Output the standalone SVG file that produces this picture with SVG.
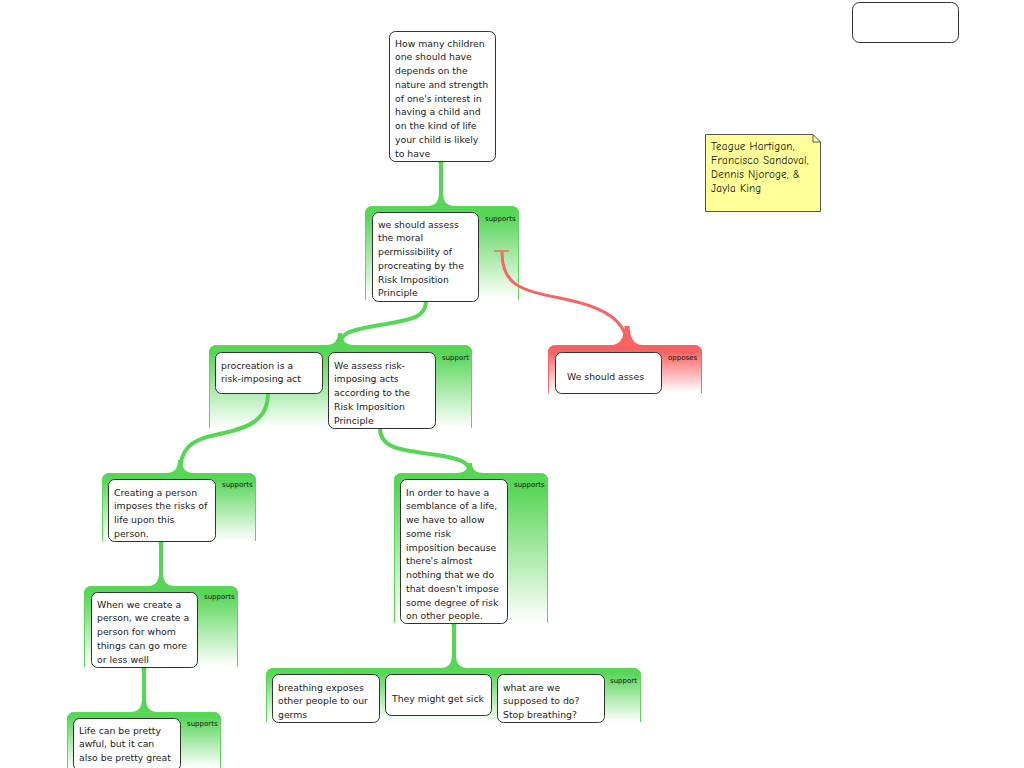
<svg xmlns="http://www.w3.org/2000/svg" width="1024" height="768" viewBox="0 0 1024 768">
<defs>
<linearGradient id="gg" x1="0" y1="0" x2="0" y2="1">
<stop offset="0" stop-color="#55d655"/><stop offset="0.1" stop-color="#58d658"/><stop offset="1" stop-color="#ffffff"/>
</linearGradient>
<linearGradient id="rg" x1="0" y1="0" x2="0" y2="1">
<stop offset="0" stop-color="#f86060"/><stop offset="0.15" stop-color="#f86464"/><stop offset="1" stop-color="#ffffff"/>
</linearGradient>
<style>
.t{font-family:"DejaVu Sans",Verdana,sans-serif;font-size:9.3px;fill:#222}
.lb{font-family:"DejaVu Sans",Verdana,sans-serif;font-size:7px;fill:#111}
.nd{fill:#fff;stroke:#333;stroke-width:1}
.gfill{fill:url(#gg);stroke:none}
.gedge{fill:none;stroke:#5ad65a;stroke-width:1}
.rfill{fill:url(#rg);stroke:none}
.redge{fill:none;stroke:#f86464;stroke-width:1}
.gc{fill:none;stroke:#55d655;stroke-width:4}
.gf{fill:#55d655}
.rc{fill:none;stroke:#f86464;stroke-width:3}
.rf{fill:#f86464}
.note{font-family:"Comic Neue","DejaVu Sans",sans-serif;font-size:11px;letter-spacing:0.25px;fill:#111}
</style>
</defs>
<rect width="1024" height="768" fill="#fff"/>

<g id="group-g1">
<path class="gfill" d="M365,300 V214 Q365,206 373,206 H511 Q519,206 519,214 V300 Z"/>
<path class="gedge" d="M365.5,300 V214 Q365.5,206.5 373,206.5 H511 Q518.5,206.5 518.5,214 V300"/>
<text class="lb" x="485" y="221">supports</text>
</g>
<g id="group-opp">
<path class="rfill" d="M548,393 V353 Q548,345 556,345 H694 Q702,345 702,353 V393 Z"/>
<path class="redge" d="M548.5,393 V353 Q548.5,345.5 556,345.5 H694 Q701.5,345.5 701.5,353 V393"/>
<text class="lb" x="668" y="360">opposes</text>
</g>
<g id="group-g2">
<path class="gfill" d="M209,428 V353 Q209,345 217,345 H464 Q472,345 472,353 V428 Z"/>
<path class="gedge" d="M209.5,428 V353 Q209.5,345.5 217,345.5 H464 Q471.5,345.5 471.5,353 V428"/>
<text class="lb" x="442" y="360">support</text>
</g>
<g id="group-g3">
<path class="gfill" d="M102,541 V481 Q102,473 110,473 H248 Q256,473 256,481 V541 Z"/>
<path class="gedge" d="M102.5,541 V481 Q102.5,473.5 110,473.5 H248 Q255.5,473.5 255.5,481 V541"/>
<text class="lb" x="222" y="487">supports</text>
</g>
<g id="group-g4">
<path class="gfill" d="M394,623 V481 Q394,473 402,473 H540 Q548,473 548,481 V623 Z"/>
<path class="gedge" d="M394.5,623 V481 Q394.5,473.5 402,473.5 H540 Q547.5,473.5 547.5,481 V623"/>
<text class="lb" x="514" y="487">supports</text>
</g>
<g id="group-g5">
<path class="gfill" d="M84,667 V594 Q84,586 92,586 H230 Q238,586 238,594 V667 Z"/>
<path class="gedge" d="M84.5,667 V594 Q84.5,586.5 92,586.5 H230 Q237.5,586.5 237.5,594 V667"/>
<text class="lb" x="204" y="599">supports</text>
</g>
<g id="group-g6">
<path class="gfill" d="M67,768 V720 Q67,712 75,712 H213 Q221,712 221,720 V768 Z"/>
<path class="gedge" d="M67.5,768 V720 Q67.5,712.5 75,712.5 H213 Q220.5,712.5 220.5,720 V768"/>
<text class="lb" x="187" y="726">supports</text>
</g>
<g id="group-g7">
<path class="gfill" d="M266,722 V676 Q266,668 274,668 H633 Q641,668 641,676 V722 Z"/>
<path class="gedge" d="M266.5,722 V676 Q266.5,668.5 274,668.5 H633 Q640.5,668.5 640.5,676 V722"/>
<text class="lb" x="610" y="683">support</text>
</g>

<g id="connectors">
<path class="gc" d="M441,161 V206"/>
<path class="gf" d="M436,161 C439,161 439,164 439,168 L443,168 C443,164 443,161 446,161 Z"/>
<path class="gf" d="M427,206 C436,206 439,201 439,192 L443,192 C443,201 446,206 455,206 Z"/>
<path class="gc" d="M426,301 C426,318 410,320 380,325 C350,330 340,333 340,345"/>
<path class="gf" d="M326,345 C335,345 338,340 338,333 L342,333 C342,340 345,345 354,345 Z"/>
<path class="gc" d="M268,393 C268,420 250,428 215,435 C190,440 180,450 180,473"/>
<path class="gf" d="M166,473 C175,473 178,468 178,460 L182,460 C182,468 185,473 194,473 Z"/>
<path class="gc" d="M380,428 C380,448 400,450 430,454 C460,458 470,462 470,473"/>
<path class="gf" d="M456,473 C465,473 468,469 468,463 L472,463 C472,469 475,473 484,473 Z"/>
<path class="gc" d="M161,541 V586"/>
<path class="gf" d="M156,541 C159,541 159,544 159,548 L163,548 C163,544 163,541 166,541 Z"/>
<path class="gf" d="M147,586 C156,586 159,581 159,572 L163,572 C163,581 166,586 175,586 Z"/>
<path class="gc" d="M144,667 V712"/>
<path class="gf" d="M139,667 C142,667 142,670 142,674 L146,674 C146,670 146,667 149,667 Z"/>
<path class="gf" d="M130,712 C139,712 142,707 142,698 L146,698 C146,707 149,712 158,712 Z"/>
<path class="gc" d="M454,623 V668"/>
<path class="gf" d="M449,623 C452,623 452,626 452,630 L456,630 C456,626 456,623 459,623 Z"/>
<path class="gf" d="M440,668 C449,668 452,663 452,654 L456,654 C456,663 459,668 468,668 Z"/>
<path class="rc" d="M502,252 C502,285 520,290 560,298 C600,306 626,318 627,345"/>
<path class="rf" d="M611,345 C620,345 624,338 624.5,326 L629.5,326 C630,338 634,345 643,345 Z"/>
<line x1="494" y1="251" x2="509" y2="251" stroke="#f86464" stroke-width="1.5"/>
</g>

<g id="node-root">
<rect class="nd" x="389.5" y="31.5" width="106" height="130" rx="6"/>
<text class="t" x="395" y="46.5"><tspan x="395">How many children</tspan><tspan x="395" dy="13.75">one should have</tspan><tspan x="395" dy="13.75">depends on the</tspan><tspan x="395" dy="13.75">nature and strength</tspan><tspan x="395" dy="13.75">of one's interest in</tspan><tspan x="395" dy="13.75">having a child and</tspan><tspan x="395" dy="13.75">on the kind of life</tspan><tspan x="395" dy="13.75">your child is likely</tspan><tspan x="395" dy="13.75">to have</tspan></text>
</g>
<g id="node-rip">
<rect class="nd" x="372.5" y="212.5" width="106" height="89" rx="6"/>
<text class="t" x="378" y="227.5"><tspan x="378">we should assess</tspan><tspan x="378" dy="13.75">the moral</tspan><tspan x="378" dy="13.75">permissibility of</tspan><tspan x="378" dy="13.75">procreating by the</tspan><tspan x="378" dy="13.75">Risk Imposition</tspan><tspan x="378" dy="13.75">Principle</tspan></text>
</g>
<g id="node-opp">
<rect class="nd" x="555.5" y="352.5" width="106" height="41" rx="6"/>
<text class="t" x="567" y="379.5">We should asses</text>
</g>
<g id="node-a">
<rect class="nd" x="215.5" y="352.5" width="107" height="41" rx="6"/>
<text class="t" x="221" y="368.5"><tspan x="221">procreation is a</tspan><tspan x="221" dy="13.75">risk-imposing act</tspan></text>
</g>
<g id="node-b">
<rect class="nd" x="328.5" y="352.5" width="107" height="76" rx="6"/>
<text class="t" x="334" y="368.5"><tspan x="334">We assess risk-</tspan><tspan x="334" dy="13.75">imposing acts</tspan><tspan x="334" dy="13.75">according to the</tspan><tspan x="334" dy="13.75">Risk Imposition</tspan><tspan x="334" dy="13.75">Principle</tspan></text>
</g>
<g id="node-c">
<rect class="nd" x="108.5" y="479.5" width="107" height="62" rx="6"/>
<text class="t" x="114" y="495.5"><tspan x="114">Creating a person</tspan><tspan x="114" dy="13.75">imposes the risks of</tspan><tspan x="114" dy="13.75">life upon this</tspan><tspan x="114" dy="13.75">person.</tspan></text>
</g>
<g id="node-d">
<rect class="nd" x="400.5" y="479.5" width="107" height="144" rx="6"/>
<text class="t" x="406" y="495.5"><tspan x="406">In order to have a</tspan><tspan x="406" dy="13.75">semblance of a life,</tspan><tspan x="406" dy="13.75">we have to allow</tspan><tspan x="406" dy="13.75">some risk</tspan><tspan x="406" dy="13.75">imposition because</tspan><tspan x="406" dy="13.75">there's almost</tspan><tspan x="406" dy="13.75">nothing that we do</tspan><tspan x="406" dy="13.75">that doesn't impose</tspan><tspan x="406" dy="13.75">some degree of risk</tspan><tspan x="406" dy="13.75">on other people.</tspan></text>
</g>
<g id="node-e">
<rect class="nd" x="91.5" y="592.5" width="106" height="75" rx="6"/>
<text class="t" x="97" y="607.5"><tspan x="97">When we create a</tspan><tspan x="97" dy="13.75">person, we create a</tspan><tspan x="97" dy="13.75">person for whom</tspan><tspan x="97" dy="13.75">things can go more</tspan><tspan x="97" dy="13.75">or less well</tspan></text>
</g>
<g id="node-f">
<rect class="nd" x="73.5" y="718.5" width="107" height="52" rx="6"/>
<text class="t" x="79" y="733.5"><tspan x="79">Life can be pretty</tspan><tspan x="79" dy="13.75">awful, but it can</tspan><tspan x="79" dy="13.75">also be pretty great</tspan></text>
</g>
<g id="node-g">
<rect class="nd" x="272.5" y="674.5" width="107" height="48" rx="6"/>
<text class="t" x="278" y="690.5"><tspan x="278">breathing exposes</tspan><tspan x="278" dy="13.75">other people to our</tspan><tspan x="278" dy="13.75">germs</tspan></text>
</g>
<g id="node-h">
<rect class="nd" x="385.5" y="674.5" width="106" height="41" rx="6"/>
<text class="t" x="392" y="701.5">They might get sick</text>
</g>
<g id="node-i">
<rect class="nd" x="497.5" y="674.5" width="107" height="48" rx="6"/>
<text class="t" x="503" y="690.5"><tspan x="503">what are we</tspan><tspan x="503" dy="13.75">supposed to do?</tspan><tspan x="503" dy="13.75">Stop breathing?</tspan></text>
</g>
<g id="node-empty">
<rect class="nd" x="852.5" y="2.5" width="106" height="40" rx="7"/>
</g>
<g id="note">
<path d="M705.5,134.5 H813 L820.5,142 V211.5 H705.5 Z" fill="#ffff99" stroke="#555" stroke-width="1"/>
<path d="M813,134.5 V142 H820.5" fill="none" stroke="#555" stroke-width="1"/>
<text class="note" x="711" y="149.5"><tspan x="711">Teague Hartigan,</tspan><tspan x="711" dy="14">Francisco Sandoval,</tspan><tspan x="711" dy="14">Dennis Njoroge, &amp;</tspan><tspan x="711" dy="14">Jayla King</tspan></text>
</g>
</svg>
